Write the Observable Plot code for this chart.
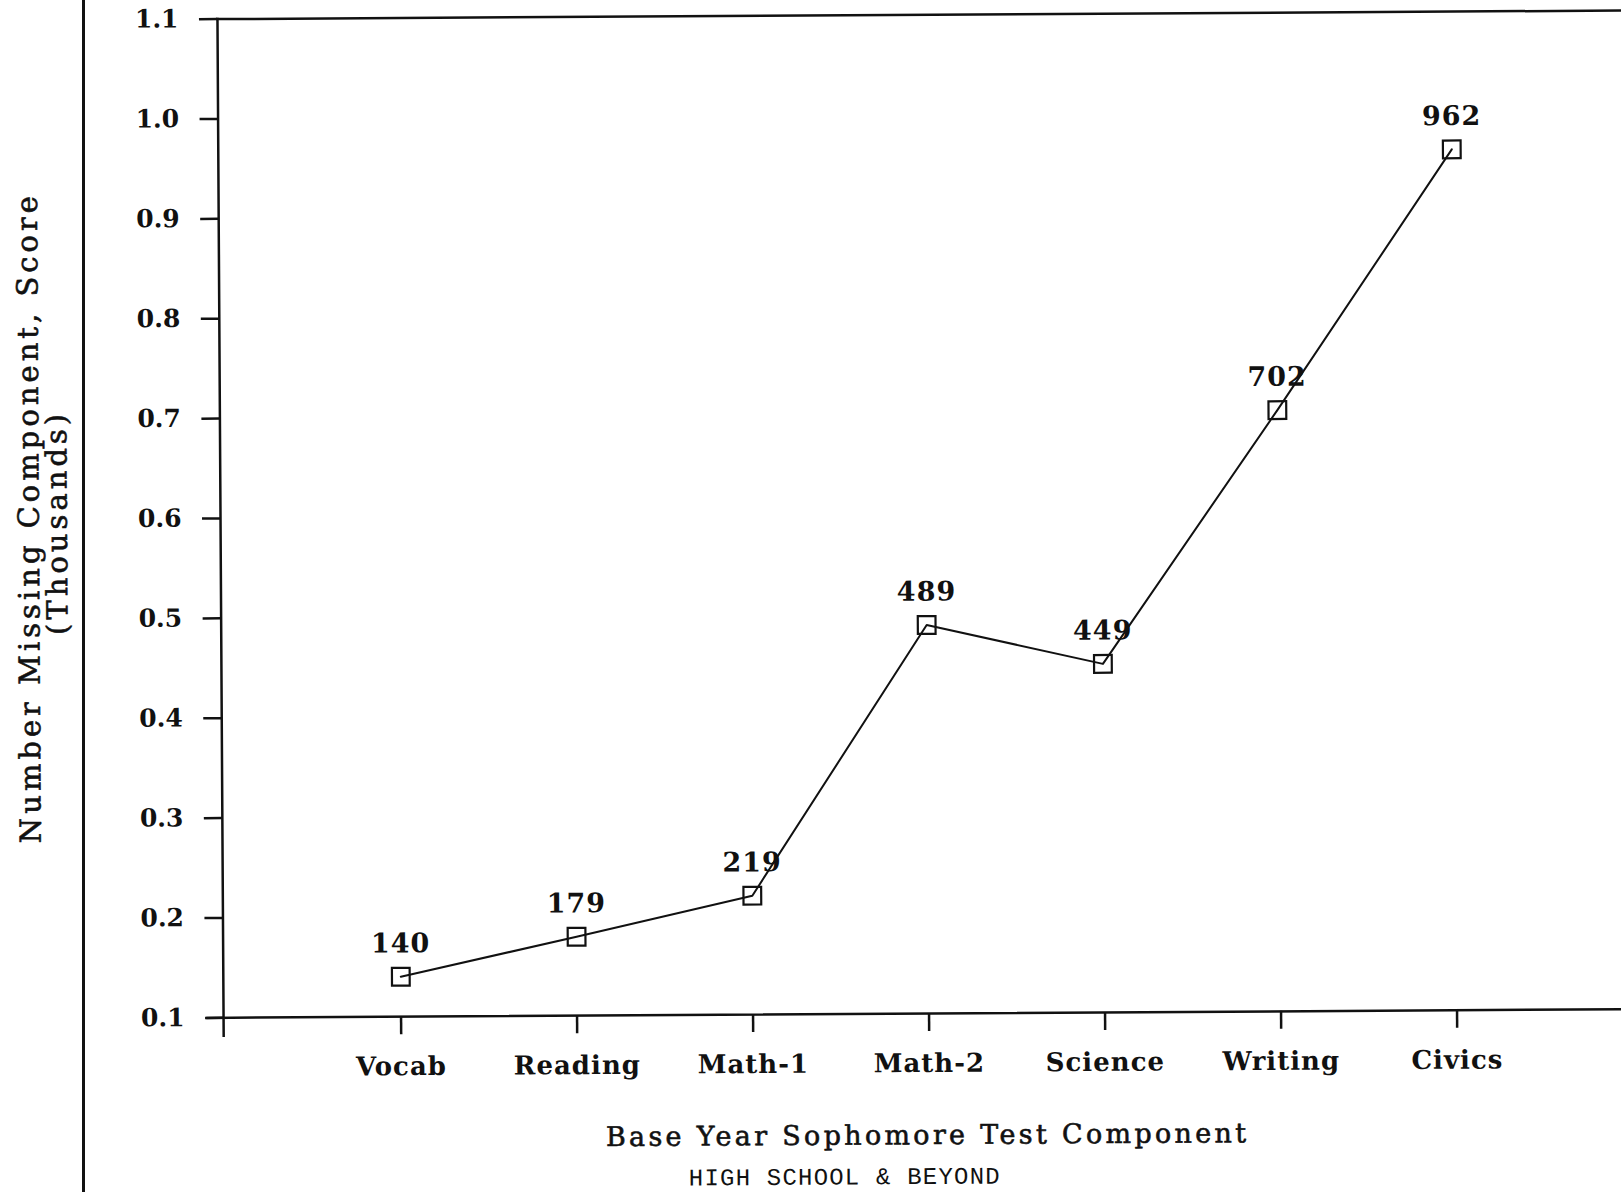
<!DOCTYPE html>
<html>
<head>
<meta charset="utf-8">
<script src="https://cdn.jsdelivr.net/npm/d3@7"></script>
<script src="https://cdn.jsdelivr.net/npm/@observablehq/plot@0.6"></script>
<style>
  html, body { margin: 0; padding: 0; background: #fff; }
  #wrap { position: relative; width: 1621px; height: 1192px; overflow: hidden; }
  #edge { position: absolute; left: 82px; top: 0; width: 3px; height: 1192px; background: #111; }
  #chart { position: absolute; left: 0; top: 0; width: 1621px; height: 1192px; transform: rotate(-0.35deg); }
</style>
</head>
<body>
<div id="wrap">
  <div id="edge"></div>
  <div id="chart"></div>
</div>
<script>
const components = ["Vocab", "Reading", "Math-1", "Math-2", "Science", "Writing", "Civics"];
const missing = [140, 179, 219, 489, 449, 702, 962]; // number missing component score
const yTicks = [0.1, 0.2, 0.3, 0.4, 0.5, 0.6, 0.7, 0.8, 0.9, 1.0, 1.1];
const xTitle = "Base Year Sophomore Test Component";
const yTitle1 = "Number Missing Component, Score";
const yTitle2 = "(Thousands)";
const footer = "HIGH SCHOOL & BEYOND";

const data = components.map((c, i) => ({component: c, value: missing[i] / 1000, label: String(missing[i])}));

const serif = "'DejaVu Serif', serif";

const chart = Plot.plot({
  width: 1621,
  height: 1192,
  marginTop: 15,
  marginBottom: 178.3,
  marginLeft: 220.5,
  marginRight: 0,
  style: {background: "transparent", fontFamily: serif, color: "#111", overflow: "visible"},
  x: {type: "point", domain: components, range: [395.5, 1456.5], padding: 0},
  y: {domain: [0.1, 1.1]},
  marks: [
    Plot.frame({anchor: "top", stroke: "#111", strokeWidth: 2.5, insetRight: -20}),
    Plot.frame({anchor: "left", stroke: "#111", strokeWidth: 2.5, insetBottom: -18}),
    Plot.frame({anchor: "bottom", stroke: "#111", strokeWidth: 2.5, insetLeft: -16, insetRight: -20}),
    Plot.axisY({
      ticks: yTicks, tickSize: 18, tickPadding: 21, tickFormat: d => d.toFixed(1),
      label: null, fontSize: 25, fontWeight: "bold", strokeWidth: 2.5
    }),
    Plot.axisX({
      tickSize: 18, tickPadding: 22, label: null, fontSize: 26, fontWeight: "bold", strokeWidth: 2.5
    }),
    Plot.line(data, {x: "component", y: "value", stroke: "#111", strokeWidth: 2}),
    Plot.dot(data, {x: "component", y: "value", symbol: "square", r: 10, stroke: "#111", strokeWidth: 2.2, fill: "none"}),
    Plot.text(data, {x: "component", y: "value", text: "label", dy: -33, fontSize: 27, fontWeight: "bold", fill: "#111"}),
    Plot.text([xTitle], {frameAnchor: "bottom", textAnchor: "middle", dx: 3, dy: 122, fontSize: 27, fill: "#111", stroke: "#111", strokeWidth: 0.6, lineAnchor: "middle"}),
    Plot.text([footer], {frameAnchor: "bottom", textAnchor: "middle", dx: -80, dy: 162.8, fontSize: 24, fill: "#111", fontFamily: "'Liberation Mono', monospace", lineAnchor: "middle"}),
    Plot.text([yTitle1], {frameAnchor: "left", textAnchor: "middle", dx: -191, dy: -2, rotate: -90, fontSize: 29, fill: "#111", stroke: "#111", strokeWidth: 0.6, lineAnchor: "middle"}),
    Plot.text([yTitle2], {frameAnchor: "left", textAnchor: "middle", dx: -163, dy: 3, rotate: -90, fontSize: 29, fill: "#111", stroke: "#111", strokeWidth: 0.6, lineAnchor: "middle"})
  ]
});

// letter spacing to mimic the wide typewriter-style lettering of the original
const spacing = new Map([
  [yTitle1, "4px"], [yTitle2, "4px"], [xTitle, "3.3px"], [footer, "1.2px"]
]);
components.forEach(c => spacing.set(c, "1px"));
missing.forEach(v => spacing.set(String(v), "1px"));
d3.select(chart).selectAll("text").each(function() {
  const s = spacing.get(this.textContent);
  if (s) this.style.letterSpacing = s;
});

document.getElementById("chart").appendChild(chart);
</script>
</body>
</html>
